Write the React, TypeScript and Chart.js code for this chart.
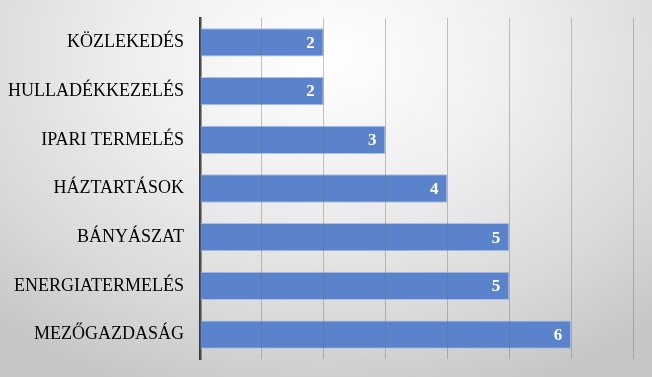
import React, { useEffect, useRef } from "react";
import { Chart, registerables } from "chart.js";

Chart.register(...registerables);

const categories = [
  "KÖZLEKEDÉS",
  "HULLADÉKKEZELÉS",
  "IPARI TERMELÉS",
  "HÁZTARTÁSOK",
  "BÁNYÁSZAT",
  "ENERGIATERMELÉS",
  "MEZŐGAZDASÁG",
];
const values = [2, 2, 3, 4, 5, 5, 6];
const xMax = 7;

const valueLabels = {
  id: "valueLabels",
  afterDatasetsDraw(chart: any) {
    const ctx = chart.ctx;
    const meta = chart.getDatasetMeta(0);
    ctx.save();
    ctx.fillStyle = "#ffffff";
    ctx.font = "bold 17px 'Liberation Serif', serif";
    ctx.textAlign = "right";
    ctx.textBaseline = "middle";
    meta.data.forEach((bar: any, i: number) => {
      ctx.fillText(String(values[i]), bar.x - 9, bar.y + 1);
    });
    ctx.restore();
  },
};

export default function App() {
  const ref = useRef<HTMLCanvasElement>(null);
  useEffect(() => {
    if (!ref.current) return;
    const chart = new Chart(ref.current, {
      type: "bar",
      data: {
        labels: categories,
        datasets: [
          {
            data: values,
            backgroundColor: "#5a83cc",
            borderColor: "#a8c0ea",
            borderWidth: 1,
            barPercentage: 0.58,
            categoryPercentage: 1,
          },
        ],
      },
      options: {
        indexAxis: "y",
        animation: false,
        responsive: false,
        maintainAspectRatio: false,
        layout: { padding: { top: 18, right: 19, bottom: 18, left: 0 } },
        plugins: { legend: { display: false }, tooltip: { enabled: false } },
        scales: {
          x: {
            min: 0,
            max: xMax,
            ticks: { display: false, stepSize: 1 },
            grid: { color: "rgba(110,110,110,0.4)", drawTicks: false, z: 1 },
            border: { display: false },
            afterFit: (s: any) => {
              s.height = 0;
              s.paddingLeft = 0;
              s.paddingRight = 0;
            },
          },
          y: {
            ticks: {
              color: "#000000",
              font: { family: "'Liberation Serif', serif", size: 18 },
              padding: 16,
            },
            grid: { display: false, drawTicks: false },
            border: { display: true, color: "#3a3a3a", width: 2.5 },
            afterFit: (s: any) => {
              s.width = 200;
              s.paddingTop = 0;
              s.paddingBottom = 0;
            },
          },
        },
      },
      plugins: [valueLabels],
    });
    return () => chart.destroy();
  }, []);
  return (
    <div
      style={{
        position: "fixed",
        left: 0,
        top: 0,
        width: 652,
        height: 377,
        background:
          "radial-gradient(ellipse 75% 95% at 50% 15%, #ffffff 0%, #eeeeee 40%, #d9d9d9 75%, #c6c6c6 100%)",
      }}
    >
      <canvas ref={ref} width={652} height={377} style={{ display: "block" }} />
    </div>
  );
}
